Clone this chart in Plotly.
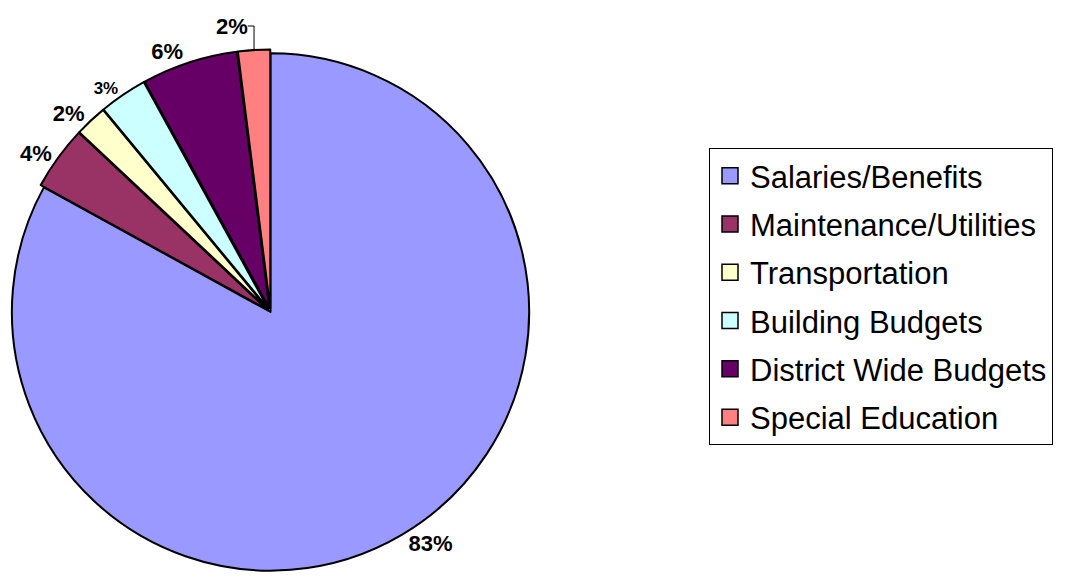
import plotly.graph_objects as go

categories = ["Salaries/Benefits", "Maintenance/Utilities", "Transportation",
              "Building Budgets", "District Wide Budgets", "Special Education"]
values = [83, 4, 2, 3, 6, 2]
labels_text = ["83%", "4%", "2%", "3%", "6%", "2%"]
colors = ["#9999FF", "#993366", "#FFFFCC", "#CCFFFF", "#660066", "#FF8080"]
pulls = [0, 0.015, 0.015, 0.015, 0.015, 0.015]
label_sizes = [22, 22, 22, 17, 22, 22]

FONT = "Liberation Sans, Arial"

fig = go.Figure()
fig.add_trace(go.Pie(
    labels=categories,
    values=values,
    text=["<b>%s</b>" % t for t in labels_text],
    textinfo="text",
    textposition="outside",
    textfont=dict(family=FONT, size=label_sizes, color="black"),
    marker=dict(colors=colors, line=dict(color="black", width=2)),
    sort=False,
    direction="clockwise",
    rotation=0,
    pull=pulls,
    domain=dict(x=[0.0, 0.4866], y=[0.0165, 0.928]),
    hoverinfo="label+percent",
    showlegend=False,
))

# legend entries (one per category) so the legend rows can be spaced like the reference
for name, col in zip(categories, colors):
    fig.add_trace(go.Scatter(
        x=[None], y=[None], mode="markers", name=name,
        legendgroup=name,
        marker=dict(symbol="square", size=20, color=col,
                    line=dict(color="black", width=1.5)),
        hoverinfo="skip",
    ))

fig.update_layout(
    width=1079, height=576,
    margin=dict(l=0, r=0, t=0, b=0, autoexpand=False),
    paper_bgcolor="white",
    plot_bgcolor="white",
    font=dict(family=FONT, color="black"),
    xaxis=dict(visible=False, domain=[0.6, 0.61]),
    yaxis=dict(visible=False),
    showlegend=True,
    legend=dict(
        x=701 / 1079, y=1 - 140 / 576, xanchor="left", yanchor="top",
        bgcolor="white", bordercolor="black", borderwidth=1,
        font=dict(family=FONT, size=31, color="black"),
        traceorder="grouped", tracegroupgap=5,
        itemsizing="trace",
        entrywidth=326,
    ),
)

fig.write_html("out.html")
